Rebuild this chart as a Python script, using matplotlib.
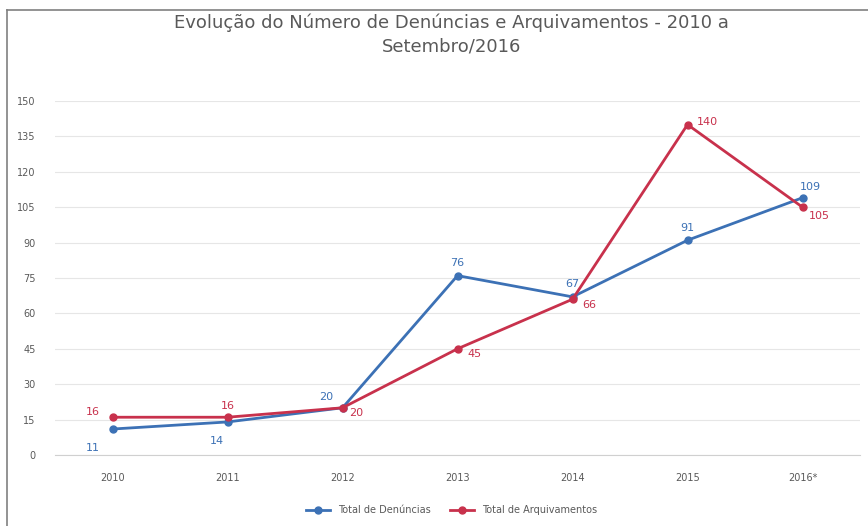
import numpy as np
import matplotlib.pyplot as plt
from matplotlib.lines import Line2D

anos = ["2010", "2011", "2012", "2013", "2014", "2015", "2016*"]
denuncias = [11, 14, 20, 76, 67, 91, 109]
arquivamentos = [16, 16, 20, 45, 66, 140, 105]

# label offsets in points (dx, dy) for each point
off_den = [(-14, -14), (-8, -14), (-12, 8), (0, 9), (0, 9), (0, 9), (6, 8)]
off_arq = [(-14, 4), (0, 8), (10, -4), (12, -4), (12, -4), (14, 2), (12, -6)]

azul = '#3C71B5'
vermelho = '#C8314C'
cinza = '#595959'

fig = plt.figure(figsize=(8.68, 5.26), dpi=100)
ax = fig.add_axes([0.0634, 0.135, 0.9274, 0.673])

x = np.arange(len(anos))
ax.plot(x, denuncias, '-o', color=azul, lw=2, ms=5, zorder=3)
ax.plot(x, arquivamentos, '-o', color=vermelho, lw=2, ms=5, zorder=3)

for i in range(len(anos)):
    ax.annotate(str(denuncias[i]), (x[i], denuncias[i]), xytext=off_den[i],
                textcoords='offset points', ha='center', va='center',
                fontsize=8, color=azul)
    ax.annotate(str(arquivamentos[i]), (x[i], arquivamentos[i]), xytext=off_arq[i],
                textcoords='offset points', ha='center', va='center',
                fontsize=8, color=vermelho)

ax.set_xlim(-0.5, len(anos) - 0.5)
ax.set_ylim(0, 150)
ax.set_yticks(np.arange(0, 151, 15))
ax.set_xticks(x)
ax.set_xticklabels(anos)
ax.tick_params(axis='both', length=0, labelsize=7, colors=cinza)
ax.tick_params(axis='y', pad=14)
ax.tick_params(axis='x', pad=13)

for s in ['top', 'right', 'left']:
    ax.spines[s].set_visible(False)
ax.spines['bottom'].set_color('#d0d0d0')
ax.grid(axis='y', color='#e6e6e6', lw=0.8)
ax.set_axisbelow(True)

fig.suptitle("Evolução do Número de Denúncias e Arquivamentos - 2010 a\nSetembro/2016",
             x=0.52, y=0.975, fontsize=13, color=cinza, linespacing=1.45)

handles = [Line2D([], [], color=azul, marker='o', lw=2, ms=5),
           Line2D([], [], color=vermelho, marker='o', lw=2, ms=5)]
fig.legend(handles, ['Total de Denúncias', 'Total de Arquivamentos'],
           loc='center', bbox_to_anchor=(0.52, 0.03), ncol=2, frameon=False,
           fontsize=7, labelcolor=cinza, handlelength=2.5, columnspacing=2)

# outer border of the chart area
fig.add_artist(Line2D([7 / 868, 7 / 868], [0, 1 - 10 / 526], color='#808080', lw=1.2,
                      transform=fig.transFigure))
fig.add_artist(Line2D([7 / 868, 1], [1 - 10 / 526, 1 - 10 / 526], color='#808080', lw=1.2,
                      transform=fig.transFigure))

fig.savefig('out.png', dpi=100)
